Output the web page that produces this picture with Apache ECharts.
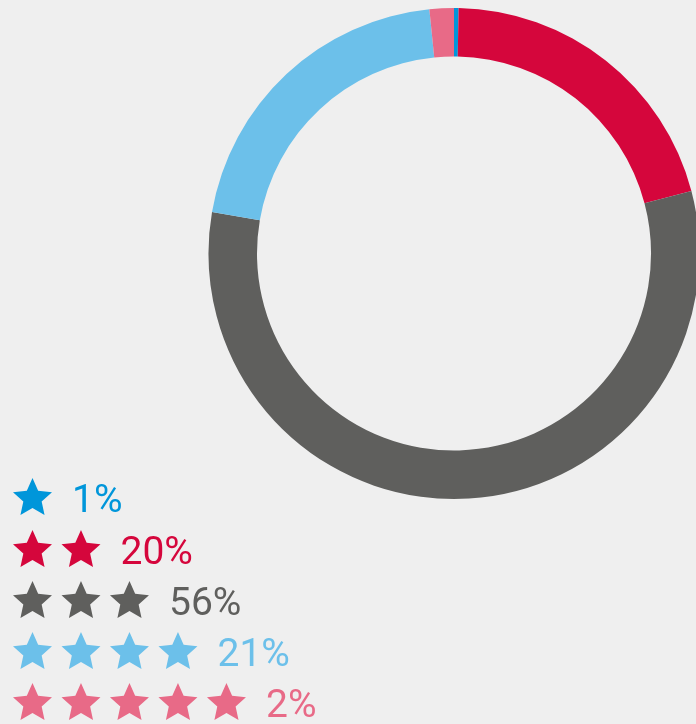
<!DOCTYPE html>
<html>
<head>
<meta charset="utf-8">
<script src="https://cdn.jsdelivr.net/npm/echarts@6/dist/echarts.min.js"></script>
<style>
  html, body { margin: 0; padding: 0; background: #efefef; }
  #chart { width: 696px; height: 724px; }
</style>
</head>
<body>
<div id="chart"></div>
<script>
// ratings: 1..5 stars
const starCounts = [1, 2, 3, 4, 5];
const names = ["1 star", "2 stars", "3 stars", "4 stars", "5 stars"];
const shares = [0.3, 20.6, 56.8, 20.7, 1.6];
const labels = ["1%", "20%", "56%", "21%", "2%"];
const colors = ["#0096da", "#d5063c", "#5f5f5d", "#6cc0ea", "#e86a87"];

// build an icon path of n stars side by side; a tiny invisible spot
// below the stars pushes the text a bit lower than the star centre
function starsPath(n) {
  const R = 20.5, r = R * 0.47, pitch = 48.5;
  let d = "";
  for (let s = 0; s < n; s++) {
    const cx = R * Math.sin(Math.PI * 72 / 180) + s * pitch;
    const cy = R;
    for (let k = 0; k < 10; k++) {
      const a = Math.PI / 5 * k;
      const rr = k % 2 === 0 ? R : r;
      const x = cx + rr * Math.sin(a);
      const y = cy - rr * Math.cos(a);
      d += (k === 0 ? "M" : "L") + x.toFixed(2) + " " + y.toFixed(2) + " ";
    }
    d += "Z ";
  }
  d += "M1 49 L1.01 49 L1 49.01 Z";
  return "path://" + d;
}

const rowTops = [478, 530, 581, 632, 683];

const legends = starCounts.map(function (n, i) {
  return {
    data: [{ name: names[i], icon: starsPath(n) }],
    left: 13,
    top: rowTops[i],
    padding: 0,
    itemWidth: n * 39 + (n - 1) * 9.5,
    itemHeight: 49,
    selectedMode: false,
    formatter: function () { return labels[i]; },
    textStyle: {
      color: colors[i],
      fontSize: 39,
      fontFamily: "Roboto",
      fontWeight: "normal",
      padding: [0, 0, 0, 15]
    }
  };
});

const myChart = echarts.init(document.getElementById("chart"));
myChart.setOption({
  backgroundColor: "#efefef",
  animation: false,
  color: colors,
  legend: legends,
  series: [
    {
      type: "pie",
      center: [454, 253.5],
      radius: [197, 245.5],
      startAngle: 90,
      clockwise: true,
      label: { show: false },
      labelLine: { show: false },
      emphasis: { disabled: true },
      itemStyle: { borderWidth: 0 },
      data: names.map(function (nm, i) {
        return { name: nm, value: shares[i] };
      })
    }
  ]
});
</script>
</body>
</html>
